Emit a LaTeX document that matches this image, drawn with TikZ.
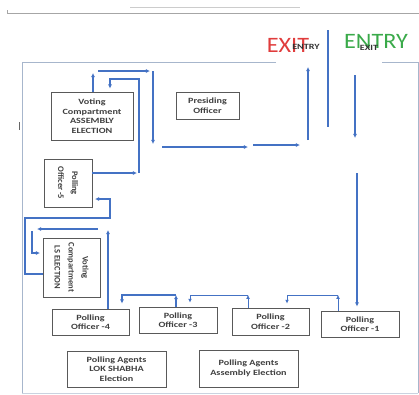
\documentclass[tikz,border=0pt]{standalone}
\usepackage{fontspec}
\setmainfont{Carlito}
\newfontfamily\boxfont[FakeStretch=1.27]{Carlito}
\newfontfamily\rotfont{Carlito}
\newfontfamily\bigfont[FakeStretch=1.1]{Carlito}
\usetikzlibrary{arrows.meta}
\definecolor{arrowblue}{HTML}{4472C4}
\definecolor{roomline}{HTML}{A7B6CC}
\definecolor{boxgrey}{HTML}{595959}
\definecolor{textgrey}{HTML}{3F3F3F}
\definecolor{exitred}{HTML}{E03C3C}
\definecolor{entrygreen}{HTML}{3AAA4A}
\tikzset{
  roombox/.style={draw=boxgrey, line width=0.9pt, text=textgrey, align=center, inner sep=0pt,
    font=\boxfont\bfseries\fontsize{8}{9.5}\selectfont},
  rotbox/.style={roombox, rotate=-90, font=\rotfont\bfseries\fontsize{8.5}{14}\selectfont},
  flow/.style={draw=arrowblue, line width=1.2pt, -{Latex[length=4.2pt,width=4.2pt]}},
  flowthin/.style={draw=arrowblue, line width=0.7pt, -{Latex[length=3.8pt,width=3.8pt]}},
  wall/.style={draw=roomline, line width=0.9pt},
}
\begin{document}
\begin{tikzpicture}[x=1pt,y=-1pt]
\useasboundingbox (0,0) rectangle (419,394);
% page decoration
\draw[draw=black!35, line width=0.8pt] (7,13) -- (419,13);
\draw[draw=black!35, line width=0.8pt] (7,10) -- (7,13);
\draw[draw=black!20, line width=0.5pt] (130,7) -- (300,7);
\draw[draw=black!60, line width=0.8pt] (19,122) -- (19,130);
% room walls
\draw[wall] (276,62) -- (22,62) -- (22,393);
\draw[wall] (382,62) -- (418,62) -- (418,393);
\draw[draw=roomline!60, line width=0.6pt] (22,393) -- (418,393);
% divider
\draw[draw=arrowblue, line width=1.6pt] (328,30) -- (328,127);
% labels
\node[font=\bigfont\fontsize{22}{22}\selectfont, text=exitred] (exit) at (288,45) {EXIT};
\node[font=\boxfont\bfseries\fontsize{8}{8}\selectfont, text=black!80] (exitsub) at (306,47) {ENTRY};
\node[font=\bigfont\fontsize{22}{22}\selectfont, text=entrygreen] (entry) at (376,41) {ENTRY};
\node[font=\boxfont\bfseries\fontsize{8}{8}\selectfont, text=black!80] (entrysub) at (369,48) {EXIT};
% boxes
\node[roombox, minimum width=82pt, minimum height=48pt] (VCA) at (92,116) {Voting\\Compartment\\ASSEMBLY\\ELECTION};
\node[roombox, minimum width=63pt, minimum height=27pt] (PRES) at (207.5,105.5) {Presiding\\Officer};
\node[rotbox, minimum width=48pt, minimum height=48pt] (PO5) at (68,183) {Polling\\Officer -5};
\node[rotbox, minimum width=59pt, minimum height=57pt] (VCLS) at (71.5,267.5) {Voting\\Compartment\\LS ELECTION};
\node[roombox, minimum width=77pt, minimum height=26pt] (PO4) at (90.5,322) {Polling\\Officer -4};
\node[roombox, minimum width=78pt, minimum height=26pt] (PO3) at (178,320) {Polling\\Officer -3};
\node[roombox, minimum width=77pt, minimum height=27pt] (PO2) at (270.5,321.5) {Polling\\Officer -2};
\node[roombox, minimum width=78pt, minimum height=26pt] (PO1) at (360,324) {Polling\\Officer -1};
\node[roombox, minimum width=99pt, minimum height=36pt] (PALS) at (116.5,369) {Polling Agents\\LOK SHABHA\\Election};
\node[roombox, minimum width=99pt, minimum height=37pt] (PAAE) at (248.5,368.5) {Polling Agents\\Assembly Election};
% coordinates
\coordinate (e1) at (355,75);
\coordinate (e2) at (355,138);
\coordinate (e3) at (357,173);
\coordinate (a1) at (338,295);
\coordinate (a2) at (287,295);
\coordinate (b1) at (248,295);
\coordinate (b2) at (190,295);
\coordinate (c1) at (176,295);
\coordinate (c2) at (122,295);
\coordinate (d1) at (108,230);
\coordinate (d2) at (98,229);
\coordinate (d3) at (37,229);
\coordinate (d4) at (32,231);
\coordinate (d5) at (32,253);
\coordinate (d6) at (40,253);
\coordinate (f1) at (43,274);
\coordinate (f2) at (25,274);
\coordinate (f3) at (25,218);
\coordinate (f4) at (110,218);
\coordinate (f5) at (110,199);
\coordinate (f6) at (95,199);
\coordinate (g0) at (92,173);
\coordinate (g1) at (137,173);
\coordinate (g2) at (139,173);
\coordinate (g3) at (139,79);
\coordinate (g4) at (110,79);
\coordinate (h1) at (93,73);
\coordinate (h2) at (98,71);
\coordinate (h3) at (150,71);
\coordinate (h4) at (153,71);
\coordinate (h5) at (153,144);
\coordinate (k1) at (162,147);
\coordinate (k2) at (248,147);
\coordinate (k3) at (253,145);
\coordinate (k4) at (300,145);
\coordinate (m1) at (308,140);
\coordinate (m2) at (308,67);
% entry flow
\draw[flow] (e1) -- (e2);
\draw[flow, shorten >=4pt] (e3) -- (PO1.north -| e3);
% bottom flow
\draw[flowthin] (PO1.north -| a1) -- (a1);
\draw[flowthin, shorten >=4pt] (a1) -- (a2) -- (PO2.north -| a2);
\draw[flowthin] (PO2.north -| b1) -- (b1);
\draw[flowthin, shorten >=4pt] (b1) -- (b2) -- (PO3.north -| b2);
\draw[flow] (PO3.north -| c1) -- (c1);
\draw[flow, shorten >=5pt] (c1) -- (c2) -- (PO4.north -| c2);
% to LS compartment
\draw[flow] (PO4.north -| d1) -- (d1);
\draw[flow] (d2) -- (d3);
\draw[flow] (d4) -- (d5) -- (d6);
% to PO5
\draw[flow] (f1) -- (f2) -- (f3) -- (f4) -- (f5) -- (f6);
% to assembly compartment
\draw[flow] (g0) -- (g1);
\draw[flow, shorten >=3pt] (g2) -- (g3) -- (g4) -- (VCA.north -| g4);
% out to exit
\draw[flow] (VCA.north -| h1) -- (h1);
\draw[flow] (h2) -- (h3);
\draw[flow] (h4) -- (h5);
\draw[flow] (k1) -- (k2);
\draw[flow] (k3) -- (k4);
\draw[flow] (m1) -- (m2);
\end{tikzpicture}
\end{document}
